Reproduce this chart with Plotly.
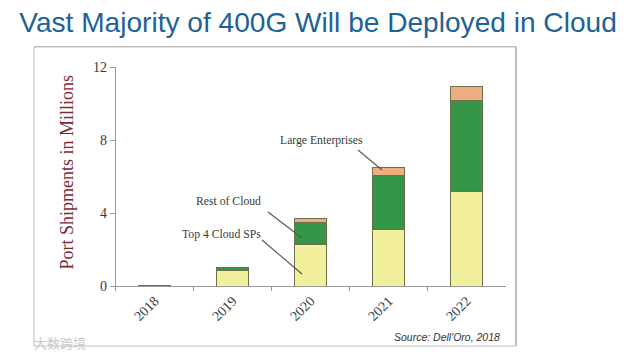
import plotly.graph_objects as go

years = ["2018", "2019", "2020", "2021", "2022"]
top4_cloud = [0.03, 0.84, 2.28, 3.12, 5.19]
rest_of_cloud = [0.01, 0.18, 1.24, 2.94, 5.01]
large_ent = [0.01, 0.0, 0.18, 0.44, 0.76]

W, H = 627, 355
X0, X1, Y0, Y1 = 115.7, 505.7, 286.3, 67.3
SERIF = "Liberation Serif"
TXT = "#3a3a3a"
OUTLINE = "#6f6f50"

fig = go.Figure()
for name, vals, col in [("Top 4 Cloud SPs", top4_cloud, "#f3f09d"),
                        ("Rest of Cloud", rest_of_cloud, "#349646"),
                        ("Large Enterprises", large_ent, "#efae80")]:
    fig.add_bar(x=years, y=vals, name=name, marker=dict(color=col, line=dict(color=OUTLINE, width=1)), width=0.405)

def page_line(a, b, c, d, color, w, layer="above"):
    fig.add_shape(type="line", xref="paper", yref="paper", x0=a / W, x1=c / W, y0=1 - b / H, y1=1 - d / H,
                  line=dict(color=color, width=w), layer=layer)

def label(text, x, y, anchor):
    fig.add_annotation(x=x / W, y=1 - y / H, xref="paper", yref="paper", text=text, showarrow=False,
                       xanchor=anchor, yanchor="middle", font=dict(family=SERIF, size=11.7, color=TXT))

label("Large Enterprises", 277.5, 140.5, "left")
label("Rest of Cloud", 263, 201, "right")
label("Top 4 Cloud SPs", 263, 234, "right")
page_line(358, 150, 382, 170, "#555555", 1.1)
page_line(268, 212, 302, 238, "#555555", 1.1)
page_line(262, 240, 302, 274, "#555555", 1.1)

fig.add_annotation(x=66 / W, y=1 - 172.5 / H, xref="paper", yref="paper", text="Port Shipments in Millions",
                   textangle=-90, showarrow=False, xanchor="center", yanchor="middle",
                   font=dict(family=SERIF, size=18, color="#7b2b36"))
fig.add_annotation(x=502 / W, y=1 - 337 / H, xref="paper", yref="paper", text="<i>Source: Dell'Oro, 2018</i>",
                   showarrow=False, xanchor="right", yanchor="middle",
                   font=dict(family="Liberation Sans", size=10.5, color="#333333"))
fig.add_annotation(x=32 / W, y=1 - 342 / H, xref="paper", yref="paper", text="大数跨境", showarrow=False,
                   xanchor="left", yanchor="middle",
                   font=dict(family="Noto Sans CJK SC", size=13, color="#c9c9c9"))

# Slide panel frame
frame = "#bdbdbd"
page_line(34, 46.7, 516, 46.7, frame, 1.5, "below")
page_line(516, 46.7, 516, 346, frame, 2, "below")
page_line(34, 346, 516, 346, frame, 1, "below")
page_line(34, 46.7, 34, 346, frame, 1, "below")

fig.update_layout(
    width=W, height=H, margin=dict(l=0, r=0, t=0, b=0), barmode="stack", showlegend=False,
    paper_bgcolor="white", plot_bgcolor="white",
    title=dict(text="Vast Majority of 400G Will be Deployed in Cloud", x=318 / W, xanchor="center",
               y=1 - 22.5 / H, yanchor="middle", font=dict(family="Liberation Sans", size=28.1, color="#1f6295")),
    xaxis=dict(domain=[X0 / W, X1 / W], type="category", range=[-0.5, 4.5], tickson="boundaries", automargin=False,
               ticks="outside", ticklen=4, tickcolor="#999999", showline=True, linecolor="#999999", linewidth=1,
               showgrid=False, tickangle=-45, tickfont=dict(family=SERIF, size=14, color=TXT)),
    yaxis=dict(domain=[1 - Y0 / H, 1 - Y1 / H], range=[0, 12], tickvals=[0, 4, 8, 12], ticks="outside", ticklen=5,
               automargin=False,
               tickcolor="#999999", showline=True, linecolor="#999999", linewidth=1, showgrid=False, zeroline=False,
               tickfont=dict(family=SERIF, size=14, color=TXT)),
)
fig.write_html("out.html", config={"displayModeBar": False},
               post_script="document.body.style.margin='0';document.documentElement.style.overflow='hidden';")
